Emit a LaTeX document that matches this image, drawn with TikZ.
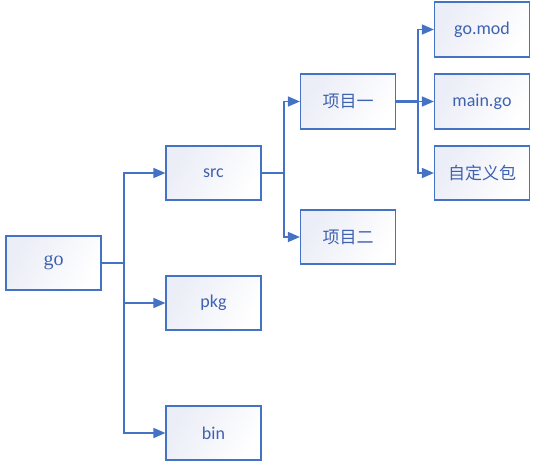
\documentclass[tikz,border=0pt]{standalone}
\usepackage{fontspec}
\setmainfont{Carlito}
\newfontfamily\cjk{Noto Sans CJK SC}
\newfontfamily\serifgo{Liberation Serif}
\usetikzlibrary{arrows.meta}
\definecolor{bblue}{HTML}{4472C4}
\definecolor{tblue}{HTML}{3F62B0}
\definecolor{lfill}{HTML}{EBEDF7}
\tikzset{
  box/.style={draw=bblue, line width=1.2pt, minimum width=95pt, minimum height=54pt,
    inner sep=0pt, shading=axis, left color=lfill, right color=white, shading angle=60,
    text=tblue, font=\fontsize{18}{20}\selectfont},
  lbl/.style={text=tblue, inner sep=0pt},
  conn/.style={draw=bblue, line width=1.6pt},
  arr/.style={conn, -{Triangle[length=12pt,width=10pt]}},
}
\begin{document}
\begin{tikzpicture}[x=1pt,y=-1pt]
\useasboundingbox (0,0) rectangle (538,466);
\node[box, font=\serifgo\fontsize{20}{20}\selectfont] (go) at (53.5,263) {\raisebox{-2pt}{go}};
\node[box] (src) at (213.5,173) {\raisebox{-2pt}{src}};
\node[box] (pkg) at (213.5,303) {\raisebox{-2pt}{pkg}};
\node[box] (bin) at (213.5,433) {\raisebox{-2pt}{bin}};
\node[box, minimum height=55pt, font=\cjk\fontsize{17}{20}\selectfont] (p1) at (348,101.5) {\raisebox{-1pt}{项目一}};
\node[box, font=\cjk\fontsize{17}{20}\selectfont] (p2) at (348,237) {\raisebox{-1pt}{项目二}};
\node[box, minimum height=55pt] (mod) at (482,29.5) {\raisebox{-2pt}{go.mod}};
\node[box, minimum height=55pt] (main) at (482,101.5) {\raisebox{-2pt}{main.go}};
\node[box, font=\cjk\fontsize{17}{20}\selectfont] (pkgc) at (482,173) {\raisebox{-1pt}{自定义包}};
\coordinate (t1) at (124,263);
\coordinate (t2) at (284,173);
\coordinate (t3) at (418,101.5);
\draw[conn, line width=2.4pt] (go.east) -- (t1);
\draw[arr] (t1) |- (src.west);
\draw[arr] (t1) -- (t1 |- pkg.west) -- (pkg.west);
\draw[arr] (t1) |- (bin.west);
\draw[conn] (src.east) -- (t2);
\draw[arr] (t2) |- (p1.west);
\draw[arr] (t2) |- (p2.west);
\draw[conn, line width=2.4pt] (p1.east) -- (t3);
\draw[arr] (t3) |- (mod.west);
\draw[arr] (t3) -- (main.west);
\draw[arr] (t3) |- (pkgc.west);
\end{tikzpicture}
\end{document}
